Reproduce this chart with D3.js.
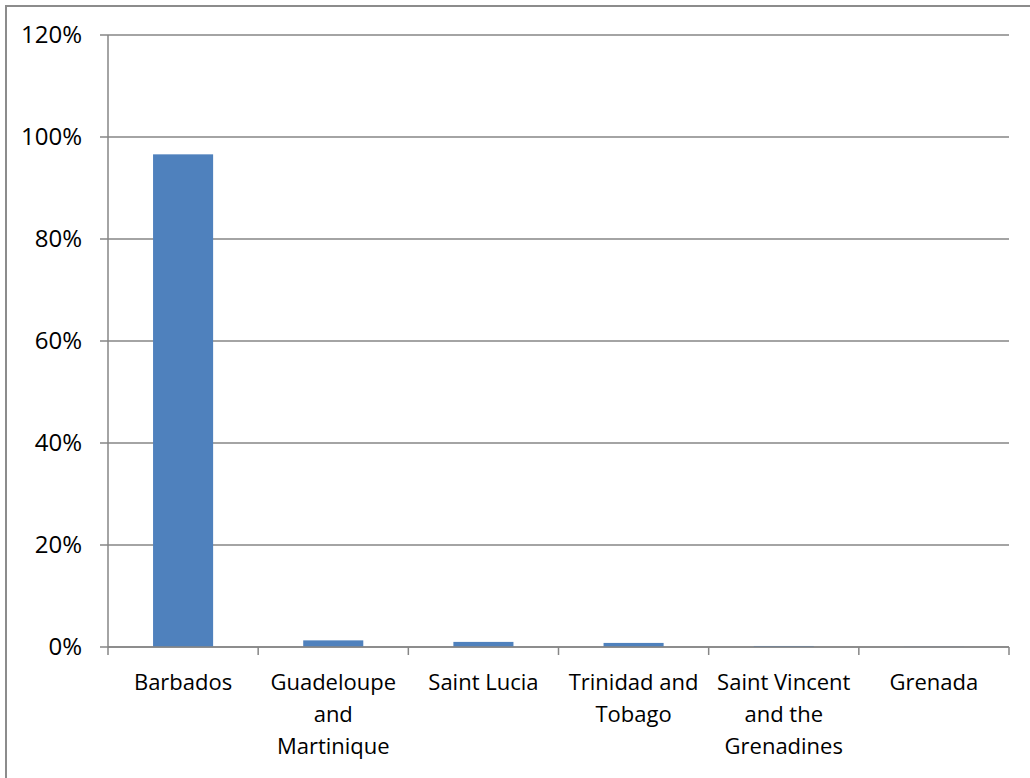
<!DOCTYPE html>
<html>
<head>
<meta charset="utf-8">
<script src="https://cdn.jsdelivr.net/npm/d3@7/dist/d3.min.js"></script>
<style>
  html, body { margin: 0; padding: 0; background: #fff; }
  svg { display: block; }
  text { font-family: "Open Sans", "DejaVu Sans", sans-serif; fill: #000; }
</style>
</head>
<body>
<svg id="chart" width="1030" height="778"></svg>
<script>
const categories = ["Barbados", "Guadeloupe and Martinique", "Saint Lucia", "Trinidad and Tobago", "Saint Vincent and the Grenadines", "Grenada"];
const shares = [0.966, 0.013, 0.010, 0.008, 0.002, 0.0005];
const yTicks = [0, 0.2, 0.4, 0.6, 0.8, 1.0, 1.2];

(function () {
const svg = d3.select("#chart");
const mLeft = 108, mRight = 1009, mTop = 35, mBottom = 647;

// outer frame (clipped on right/bottom)
svg.append("rect")
  .attr("x", 6).attr("y", 6).attr("width", 1100).attr("height", 900)
  .attr("fill", "none").attr("stroke", "#8c8c8c").attr("stroke-width", 2);

const x = d3.scaleBand().domain(categories).range([mLeft, mRight]).paddingInner(0.6).paddingOuter(0.3);
const y = d3.scaleLinear().domain([0, 1.2]).range([mBottom, mTop]);

// gridlines
svg.append("g").selectAll("line").data(yTicks).join("line")
  .attr("x1", mLeft - 8).attr("x2", mRight)
  .attr("y1", d => y(d)).attr("y2", d => y(d))
  .attr("stroke", "#868686").attr("stroke-width", 1.5);

// y axis labels
const yAxis = d3.axisLeft(y).tickValues(yTicks).tickFormat(d3.format(".0%")).tickSize(0).tickPadding(26);
const gy = svg.append("g").attr("transform", `translate(${mLeft},0)`).call(yAxis);
gy.select(".domain").remove();
gy.selectAll("text").style("font-size", "24px").style("font-family", "'Open Sans', sans-serif").attr("fill", "#000");

// left axis line
svg.append("line").attr("x1", mLeft).attr("x2", mLeft).attr("y1", mTop).attr("y2", mBottom)
  .attr("stroke", "#868686").attr("stroke-width", 1.5);

// bars
svg.append("g").selectAll("rect").data(categories).join("rect")
  .attr("x", d => x(d))
  .attr("width", x.bandwidth())
  .attr("y", (d, i) => y(shares[i]))
  .attr("height", (d, i) => y(0) - y(shares[i]))
  .attr("fill", "#4F81BD");

// x axis line and category boundary ticks
svg.append("line").attr("x1", mLeft).attr("x2", mRight).attr("y1", mBottom).attr("y2", mBottom)
  .attr("stroke", "#868686").attr("stroke-width", 1.5);
const step = x.step();
const bounds = d3.range(categories.length + 1).map(i => x(categories[0]) - step * x.paddingOuter() + i * step);
svg.append("g").selectAll("line").data(bounds).join("line")
  .attr("x1", d => d).attr("x2", d => d)
  .attr("y1", mBottom).attr("y2", mBottom + 8)
  .attr("stroke", "#868686").attr("stroke-width", 1.5);

// x labels, wrapped
const maxW = step - 8;
const lab = svg.append("g").selectAll("text").data(categories).join("text")
  .attr("text-anchor", "middle")
  .style("font-size", "22px")
  .attr("x", d => x(d) + x.bandwidth() / 2)
  .attr("y", 690);
lab.each(function(d) {
  const t = d3.select(this);
  const cx = +t.attr("x");
  const words = d.split(" ");
  let lines = [], cur = [];
  const probe = t.append("tspan");
  words.forEach(w => {
    const test = cur.concat([w]).join(" ");
    probe.text(test);
    if (cur.length && probe.node().getComputedTextLength() > maxW) {
      lines.push(cur.join(" "));
      cur = [w];
    } else cur.push(w);
  });
  lines.push(cur.join(" "));
  probe.remove();
  lines.forEach((l, i) => {
    t.append("tspan").attr("x", cx).attr("dy", i === 0 ? 0 : 32).text(l);
  });
});
})();
</script>
</body>
</html>
